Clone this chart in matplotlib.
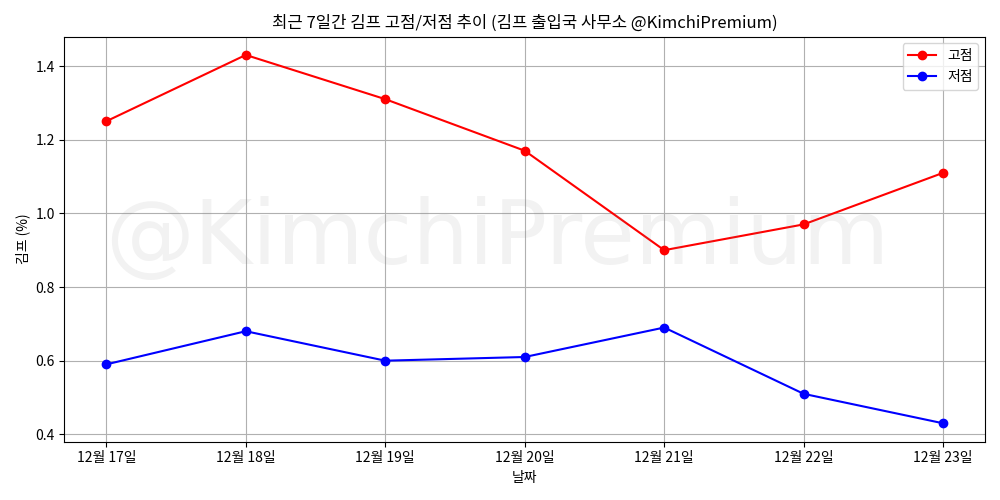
import matplotlib
matplotlib.use('Agg')
import matplotlib.pyplot as plt

plt.rcParams['font.family'] = ['Noto Sans CJK KR', 'DejaVu Sans']

dates = ['12월 17일', '12월 18일', '12월 19일', '12월 20일', '12월 21일', '12월 22일', '12월 23일']
high = [1.25, 1.43, 1.31, 1.17, 0.90, 0.97, 1.11]
low = [0.59, 0.68, 0.60, 0.61, 0.69, 0.51, 0.43]

fig, ax = plt.subplots(figsize=(10, 5), dpi=100)
ax.plot(dates, high, marker='o', color='red', label='고점')
ax.plot(dates, low, marker='o', color='blue', label='저점')
wm = ax.text(0.47, 0.5, '@KimchiPremium', transform=ax.transAxes, fontsize=64,
             color='gray', alpha=0.1, ha='center', va='center', family=['DejaVu Sans'])
wm.set_in_layout(False)
ax.set_title('최근 7일간 김프 고점/저점 추이 (김프 출입국 사무소 @KimchiPremium)')
ax.set_xlabel('날짜')
ax.set_ylabel('김프 (%)')
ax.grid(True)
ax.legend(loc='upper right')
plt.tight_layout()
plt.savefig('out.png', dpi=100)
plt.close()
